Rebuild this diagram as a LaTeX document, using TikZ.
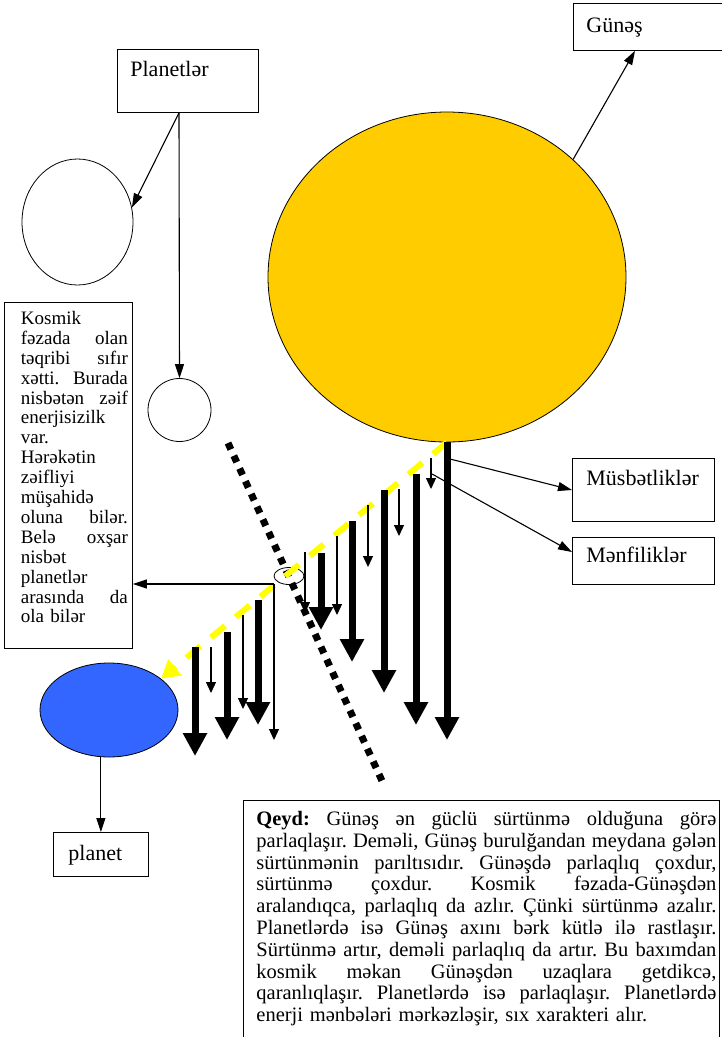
\documentclass[tikz,border=0pt]{standalone}
\usepackage{fontspec}
\setmainfont{Liberation Serif}
\usetikzlibrary{arrows.meta,shapes.geometric}
\definecolor{sunc}{HTML}{FFCC00}
\definecolor{bluec}{HTML}{3366FF}
\definecolor{yel}{HTML}{FFFF00}
\newcommand\jl[1]{\leavevmode\hbox to 107pt{\spaceskip=0.25em plus 1fil\xspaceskip=0.25em plus 1fil\relax #1}}
\newcommand\jn[1]{\leavevmode\hbox to 460pt{\spaceskip=0.25em plus 1fil\xspaceskip=0.25em plus 1fil\relax #1}}
\begin{document}
\frenchspacing
\begin{tikzpicture}[x=1pt,y=-1pt,
  lbl/.style={draw, line width=0.8pt, anchor=north west, align=left, inner ysep=0pt, font=\fontsize{22pt}{25pt}\selectfont},
  oval/.style={draw, ellipse, line width=0.8pt, inner sep=0pt},
  conn/.style={line width=1.1pt, -{Triangle[width=9pt,length=14pt]}},
  thinarr/.style={line width=1.2pt, -{Triangle[width=10pt,length=11pt]}},
  thickarr/.style={line width=7pt, -{Triangle[width=23pt,length=23pt]}},
  zerodots/.style={line width=7pt, dash pattern=on 7pt off 7pt},
  sunray/.style={yel, line width=6pt, dash pattern=on 18pt off 14pt, -{Triangle[width=20pt,length=18pt]}}
]
\useasboundingbox (0,0) rectangle (722,1037);

% boxes
\node[lbl, inner xsep=13pt, text width=126pt, text height=29pt, text depth=18pt] (gunes) at (573,3) {Günəş};
\node[lbl, inner xsep=13pt, text width=115pt, text height=27pt, text depth=36pt] (plan) at (117,49) {Planetlər};
\node[lbl, inner xsep=14pt, text width=114pt, text height=27pt, text depth=36pt] (musb) at (572,458) {Müsbətliklər};
\node[lbl, inner xsep=14pt, text width=114pt, text height=25pt, text depth=22pt] (menf) at (572,537) {Mənfiliklər};
\node[lbl, inner xsep=15pt, text width=65pt, text height=28pt, text depth=16pt] (pbox) at (53,832) {planet};

\node[lbl, inner xsep=0pt, text width=128pt, text height=22pt, text depth=324pt,
      font=\fontsize{19pt}{19.9pt}\selectfont] (ltxt) at (4,302) {\leftskip=16.5pt
Kosmik\\
\jl{fəzada olan}\\
\jl{təqribi sıfır}\\
\jl{xətti. Burada}\\
\jl{nisbətən zəif}\\
enerjisizilk\\
var.\\
Hərəkətin\\
zəifliyi\\
müşahidə\\
\jl{oluna bilər.}\\
\jl{Belə oxşar}\\
nisbət\\
planetlər\\
\jl{arasında da}\\
ola bilər\par};

\node[lbl, inner xsep=0pt, text width=476pt, text height=25pt, text depth=215pt,
      font=\fontsize{20.5pt}{21.8pt}\selectfont] (note) at (243,800) {\leftskip=13pt
\jn{\textbf{Qeyd:} Günəş ən güclü sürtünmə olduğuna görə}\\
\jn{parlaqlaşır. Deməli, Günəş burulğandan meydana gələn}\\
\jn{sürtünmənin parıltısıdır. Günəşdə parlaqlıq çoxdur,}\\
\jn{sürtünmə çoxdur. Kosmik fəzada-Günəşdən}\\
\jn{aralandıqca, parlaqlıq da azlır. Çünki sürtünmə azalır.}\\
\jn{Planetlərdə isə Günəş axını bərk kütlə ilə rastlaşır.}\\
\jn{Sürtünmə artır, deməli parlaqlıq da artır. Bu baxımdan}\\
\jn{kosmik məkan Günəşdən uzaqlara getdikcə,}\\
\jn{qaranlıqlaşır. Planetlərdə isə parlaqlaşır. Planetlərdə}\\
enerji mənbələri mərkəzləşir, sıx xarakteri alır.\par};

% bodies
\node[oval, minimum width=111pt, minimum height=126pt] (p1) at (77.5,222) {};
\node[oval, minimum width=63pt, minimum height=63pt] (p2) at (179.5,410) {};
\node[oval, fill=sunc, minimum width=358pt, minimum height=330pt] (sun) at (447,277) {};
\node[oval, fill=bluec, minimum width=138pt, minimum height=94pt] (planet) at (109,710) {};
\node[oval, minimum width=30pt, minimum height=17pt] (zero) at (289,576) {};

% connectors
\draw[conn] ([xshift=62pt]plan.south west) -- (p1.15);
\draw[conn] ([xshift=62pt]plan.south west) -- (p2.north);
\draw[conn] (sun.43) -- ([xshift=62pt]gunes.south west);
\draw[conn] (pbox.north |- planet.south) -- (pbox.north);

% dotted zero line and sun ray
\draw[zerodots] (228,443) -- (383,783);
\draw[sunray] (sun.south) -- (planet.31);

% thick arrows
\draw[thickarr] (447,442) -- (447,740);
\draw[thickarr] (416,474) -- (416,725);
\draw[thickarr] (384,490) -- (384,693);
\draw[thickarr] (352,521) -- (352,662);
\draw[thickarr] (321,553) -- (321,630);
\draw[thickarr] (258,600) -- (258,725);
\draw[thickarr] (227,632) -- (227,740);
\draw[thickarr] (195,647) -- (195,756);

% thin arrows
\draw[thinarr] (431,458) -- (431,489);
\draw[thinarr] (399,489) -- (399,536);
\draw[thinarr] (368,505) -- (368,567);
\draw[thinarr] (337,536) -- (337,615);
\draw[thinarr] (305,552) -- (305,613);
\draw[thinarr] (243,615) -- (243,709);
\draw[thinarr] (211,647) -- (211,693);

% zero point connectors
\coordinate (z0) at (274,584);
\draw[conn] (z0) -- (ltxt.east |- z0);
\draw[thinarr] (z0) -- (274,740);

% positive / negative connectors
\coordinate (mp) at (450,459);
\coordinate (mn) at (432,474);
\draw[conn] (mp) -- ([yshift=-32pt]musb.north west);
\draw[conn] (mn) -- ([yshift=-15pt]menf.north west);
\end{tikzpicture}
\end{document}
